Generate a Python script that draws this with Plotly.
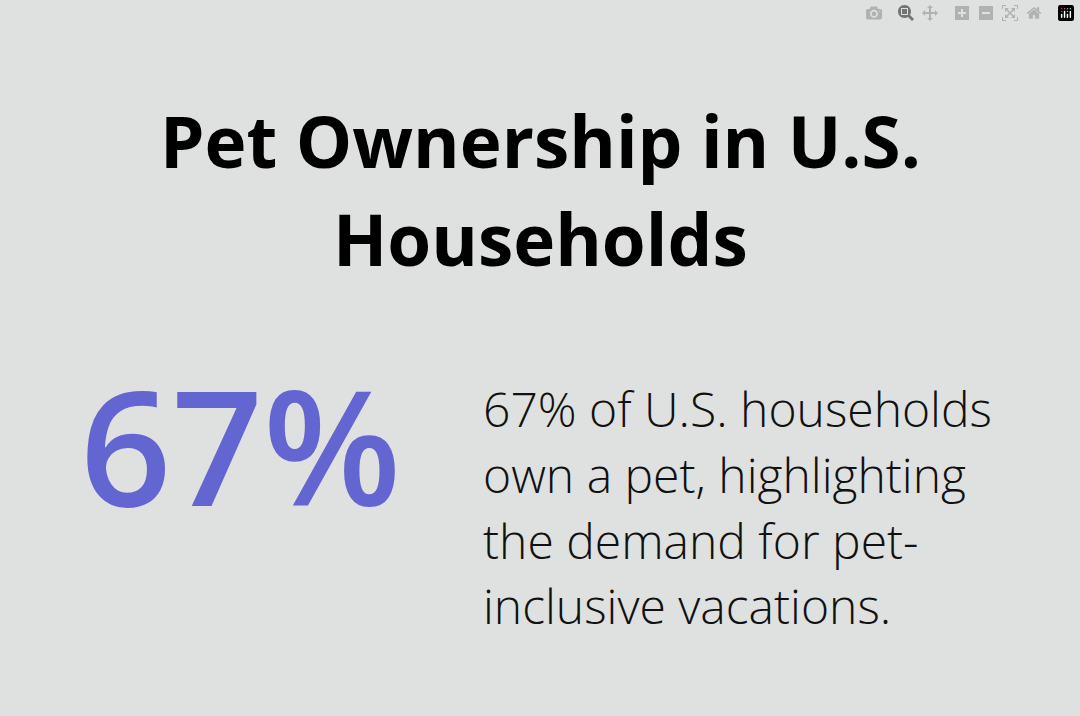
import plotly.graph_objects as go

title_lines = ["Pet Ownership in U.S.", "Households"]
stat_value = "67%"
body_lines = ["67% of U.S. households", "own a pet, highlighting", "the demand for pet-", "inclusive vacations."]

W, H = 1080, 716
fig = go.Figure()
fig.update_layout(width=W, height=H, paper_bgcolor="#dfe1e0", plot_bgcolor="#dfe1e0",
                  margin=dict(l=0, r=0, t=0, b=0))
fig.update_xaxes(visible=False, range=[0, W])
fig.update_yaxes(visible=False, range=[H, 0])

title_y = [140, 238]
for t, y in zip(title_lines, title_y):
    fig.add_annotation(x=540, y=y, text=t, showarrow=False, xanchor="center", yanchor="middle",
                       font=dict(family="Open Sans", size=71, color="#000000", weight=700))

fig.add_annotation(x=240, y=444, text=stat_value, showarrow=False, xanchor="center", yanchor="middle",
                   font=dict(family="Open Sans", size=160, color="#6366d1", weight=600))

body_y = [408, 474, 540, 605]
for t, y in zip(body_lines, body_y):
    fig.add_annotation(x=481, y=y, text=t, showarrow=False, xanchor="left", yanchor="middle",
                       font=dict(family="Open Sans", size=48, color="#111111", weight=300))

fig.write_html("out.html", post_script="document.body.style.margin='0';document.body.style.background='#dfe1e0';")
